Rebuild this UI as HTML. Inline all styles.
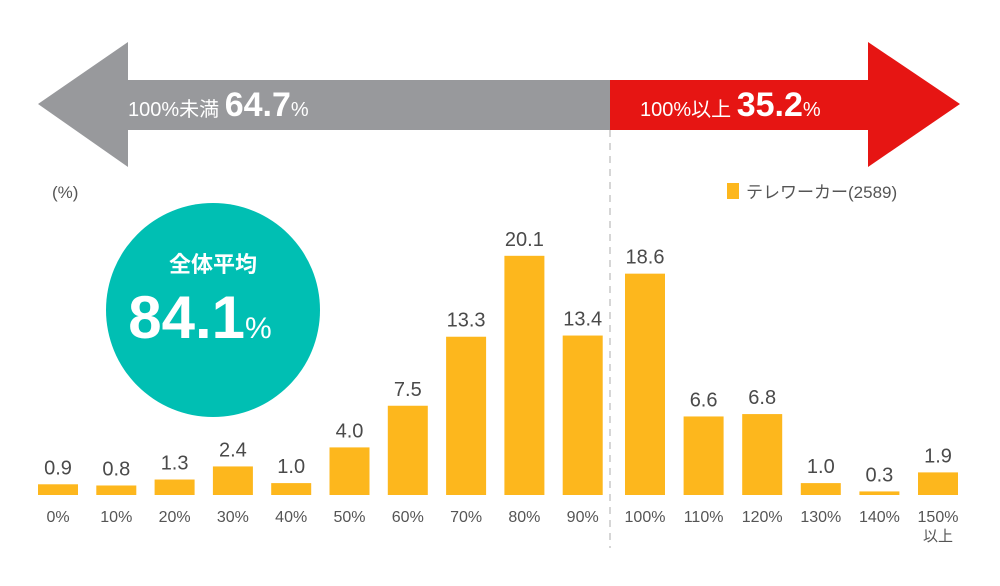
<!DOCTYPE html>
<html><head><meta charset="utf-8"><style>
body{margin:0;background:#fff;font-family:"Liberation Sans","Noto Sans CJK JP",sans-serif;}
svg text{font-family:"Liberation Sans","Noto Sans CJK JP",sans-serif;}
</style></head><body>
<svg width="1000" height="581" viewBox="0 0 1000 581">
<polygon points="610,80 128,80 128,42 38,104 128,167 128,130 610,130" fill="#98999c"/>
<polygon points="610,80 868,80 868,42 960,104 868,167 868,130 610,130" fill="#e61513"/>
<text x="128" y="116" fill="#fff" font-size="20">100%未満 <tspan font-size="34" font-weight="bold">64.7</tspan><tspan font-size="20">%</tspan></text>
<text x="640" y="116" fill="#fff" font-size="20">100%以上 <tspan font-size="34" font-weight="bold">35.2</tspan><tspan font-size="20">%</tspan></text>
<line x1="610" y1="130" x2="610" y2="548" stroke="#c8c8c8" stroke-width="1.5" stroke-dasharray="7,6"/>
<text x="52" y="198" font-size="17" fill="#555">(%)</text>
<rect x="727" y="183" width="12" height="16" fill="#fdb71d"/>
<text x="746" y="198" font-size="17" fill="#555">テレワーカー(2589)</text>
<circle cx="213" cy="310" r="107" fill="#00bfb3"/>
<text x="213" y="272" font-size="22" font-weight="bold" fill="#fff" text-anchor="middle">全体平均</text>
<text x="200" y="338" font-size="60" font-weight="bold" fill="#fff" text-anchor="middle">84.1<tspan font-size="30" font-weight="normal">%</tspan></text>
<g id="bars"></g>
</svg>
<script>
const categories=["0%","10%","20%","30%","40%","50%","60%","70%","80%","90%","100%","110%","120%","130%","140%","150%"];
const values=[0.9,0.8,1.3,2.4,1.0,4.0,7.5,13.3,20.1,13.4,18.6,6.6,6.8,1.0,0.3,1.9];
const valueLabels=["0.9","0.8","1.3","2.4","1.0","4.0","7.5","13.3","20.1","13.4","18.6","6.6","6.8","1.0","0.3","1.9"];
const NS="http://www.w3.org/2000/svg";
const g=document.getElementById("bars");
const base=495, scale=11.9, bw=40;
function xPos(i){return i<10?38+i*58.3:625+(i-10)*58.6;}
function yPos(v){return base-v*scale;}
categories.forEach((c,i)=>{
  const x=xPos(i),y=yPos(values[i]);
  const r=document.createElementNS(NS,"rect");
  
  
  r.setAttribute("x",x);r.setAttribute("y",y);r.setAttribute("width",bw);r.setAttribute("height",base-y);r.setAttribute("fill","#fdb71d");
  g.appendChild(r);
  const t=document.createElementNS(NS,"text");
  
  
  t.setAttribute("x",x+bw/2);t.setAttribute("y",y-10);t.setAttribute("text-anchor","middle");t.setAttribute("font-size","20");t.setAttribute("fill","#4a4a4a");
  t.textContent=valueLabels[i];g.appendChild(t);
  const l=document.createElementNS(NS,"text");
  
  
  l.setAttribute("x",x+bw/2);l.setAttribute("y",522);l.setAttribute("text-anchor","middle");l.setAttribute("font-size","16");l.setAttribute("fill","#555");
  l.textContent=c;g.appendChild(l);
  if(i===15){
    const l2=document.createElementNS(NS,"text");
    
    
    l2.setAttribute("x",x+bw/2);l2.setAttribute("y",541);l2.setAttribute("text-anchor","middle");l2.setAttribute("font-size","15");l2.setAttribute("fill","#555");
    l2.textContent="以上";g.appendChild(l2);
  }
});
</script>
</body></html>
